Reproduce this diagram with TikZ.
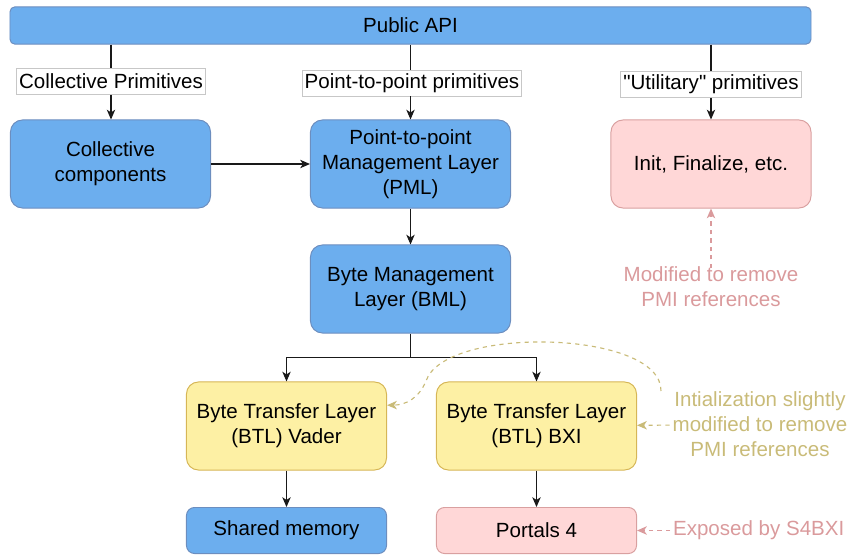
\documentclass[tikz,border=0pt]{standalone}
\usepackage{fontspec}
\newfontfamily\diagfont{Liberation Sans}
\usetikzlibrary{arrows.meta}
\definecolor{layerblue}{HTML}{6CAEEE}
\definecolor{layerblueline}{HTML}{6C8EBF}
\definecolor{btlyellow}{HTML}{FDF0A4}
\definecolor{btlyellowline}{HTML}{D6B656}
\definecolor{modpink}{HTML}{FFD7D7}
\definecolor{modpinkline}{HTML}{D9A0A0}
\definecolor{notepink}{HTML}{DA9A9C}
\definecolor{notekhaki}{HTML}{C9BB78}

\begin{document}
\begin{tikzpicture}[x=0.025cm,y=-0.025cm,font=\diagfont\fontsize{14.6pt}{17.8pt}\selectfont,
  bigbox/.style={draw=#1line,fill=#1,rounded corners=.3cm,line width=.7pt,minimum width=5cm,minimum height=2.2cm,align=center,inner sep=1pt},
  flatbox/.style={draw=#1line,fill=#1,rounded corners=.2cm,line width=.7pt,minimum width=5cm,minimum height=1.15cm,inner sep=1pt},
  primlabel/.style={draw=black!22,fill=white,line width=.5pt,minimum height=.65cm,inner xsep=1.8pt,inner ysep=0pt},
  note/.style={text=#1,align=center,inner sep=2pt},
  link/.style={draw=black!90,line width=.75pt},
  arr/.style={link,-{Stealth[length=7pt,width=6pt,inset=2pt]}},
  notearr/.style={draw=#1,line width=.8pt,dash pattern=on 3pt off 3pt,-{Stealth[length=7pt,width=6pt,inset=2pt]}}]
\useasboundingbox (0,0) rectangle (851,559);
\node[draw=layerblueline,fill=layerblue,rounded corners=.12cm,line width=.7pt,minimum width=20.02cm,minimum height=.93cm] (api) at (410.5,25.5) {Public API};
\node[primlabel] (collprim) at (111,81.5) {Collective Primitives};
\node[primlabel] (p2pprim) at (412,83) {Point-to-point primitives};
\node[primlabel] (utilprim) at (711,84.5) {"Utilitary" primitives};
\node[bigbox=layerblue] (coll) at (110.5,164) {Collective\\components};
\node[bigbox=layerblue] (pml) at (410.5,164) {Point-to-point\\Management Layer\\(PML)};
\node[bigbox=modpink] (init) at (711,164) {Init, Finalize, etc.};
\node[bigbox=layerblue] (bml) at (410.5,289) {Byte Management\\Layer (BML)};
\node[bigbox=btlyellow] (vader) at (286.5,426) {Byte Transfer Layer\\(BTL) Vader};
\node[bigbox=btlyellow] (bxi) at (536.5,426) {Byte Transfer Layer\\(BTL) BXI};
\node[flatbox=layerblue] (shm) at (286.5,530.5) {Shared memory};
\node[flatbox=modpink] (portals) at (536.5,530.5) {Portals 4};
\node[note=notepink] (pminote) at (711,287) {Modified to remove\\PMI references};
\node[note=notekhaki] (initnote) at (760,424.5) {Intialization slightly\\modified to remove\\PMI references};
\node[note=notepink,anchor=west] (s4bxinote) at (670,530.5) {Exposed by S4BXI};
\coordinate (split) at (410.5,357.5);
\coordinate (curvefrom) at (661,391);
\draw[link] (api.south -| collprim) -- (collprim);
\draw[arr] (collprim) -- (collprim |- coll.north);
\draw[link] (api.south -| pml) -- (pml |- p2pprim.north);
\draw[arr] (p2pprim.south -| pml) -- (pml);
\draw[link] (api.south -| utilprim) -- (utilprim);
\draw[arr] (utilprim) -- (utilprim |- init.north);
\draw[arr] (coll) -- (pml);
\draw[arr] (pml) -- (bml);
\draw[link] (bml) -- (split);
\draw[arr] (split) -| (vader.north);
\draw[arr] (split) -| (bxi.north);
\draw[arr] (vader) -- (shm);
\draw[arr] (bxi) -- (portals);
\draw[notearr=notepink] ([yshift=-.1cm]pminote.north) -- (init);
\draw[notearr=notekhaki] (initnote) -- (bxi);
\draw[notearr=notepink] (s4bxinote) -- (portals);
\draw[notearr=notekhaki] (curvefrom) .. controls (662,330) and (445,325) .. (426,381) .. controls (419,398) and (406,405) .. ([yshift=.52cm]vader.east);
\end{tikzpicture}
\end{document}
